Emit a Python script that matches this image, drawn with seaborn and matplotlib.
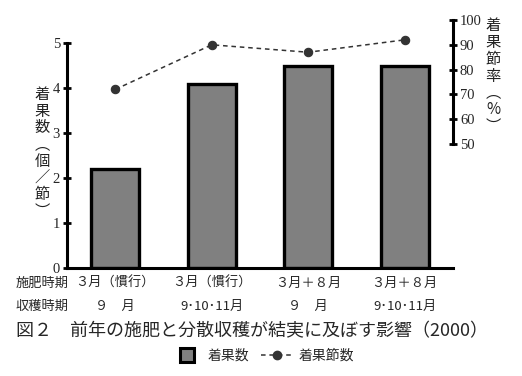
import matplotlib
matplotlib.use("Agg")
import matplotlib.pyplot as plt
import matplotlib.transforms as mtransforms
from matplotlib.lines import Line2D
import seaborn as sns
import pandas as pd

# ---- data ----
categories = ["A", "B", "C", "D"]
fruit_count = [2.2, 4.1, 4.5, 4.5]          # 着果数（個／節）
fruit_node_rate = [72, 90, 87, 92]          # 着果節率（%）
fert_labels = ["３月（慣行）", "３月（慣行）", "３月＋８月", "３月＋８月"]
harvest_labels = ["９　月", "9･10･11月", "９　月", "9･10･11月"]
left_ticks = [0, 1, 2, 3, 4, 5]
right_ticks = [50, 60, 70, 80, 90, 100]

sns.set_style("white")
plt.rcParams['font.family'] = ['Noto Sans CJK JP', 'DejaVu Sans']
JP = ['Noto Sans CJK JP', 'DejaVu Sans']
NUM = ['Liberation Serif', 'DejaVu Serif']

BAR_GREY = "#808080"
LINE_COL = "#333333"

df = pd.DataFrame({"cat": categories, "count": fruit_count, "rate": fruit_node_rate})

fig = plt.figure(figsize=(5.22, 3.76), dpi=100)
ax = fig.add_axes([67/522, 1 - 268/376, (453-67)/522, (268-19)/376])

sns.barplot(data=df, x="cat", y="count", ax=ax, color=BAR_GREY,
            width=0.5, edgecolor="black", linewidth=2.4, saturation=1)
ax.set_xlim(-0.5, 3.5)
ax.set_ylim(0, 5 * 249 / 225)
ax.set_yticks(left_ticks)
ax.set_yticklabels([str(t) for t in left_ticks], fontfamily=NUM, fontsize=10.5)
ax.set_xticks([-0.5, 0.5, 1.5, 2.5, 3.5])
ax.set_xticklabels([])
ax.tick_params(axis='both', direction='inout', length=6, width=2, color='black', pad=2)
for s in ["top", "right"]:
    ax.spines[s].set_visible(False)
for s in ["left", "bottom"]:
    ax.spines[s].set_linewidth(2.2)
    ax.spines[s].set_color("black")
ax.spines["left"].set_bounds(0, 5)
ax.set_xlabel("")
ax.set_ylabel("")

ax2 = ax.twinx()
sns.pointplot(data=df, x="cat", y="rate", ax=ax2, color=LINE_COL,
              linestyles="--", markers="o", markersize=6, linewidth=1.1)
ax2.set_xlim(-0.5, 3.5)
ax2.set_ylim(0, 100 * 249 / 248)
ax2.set_yticks(right_ticks)
ax2.set_yticklabels([str(t) for t in right_ticks], fontfamily=NUM, fontsize=10.5)
ax2.tick_params(axis='y', direction='inout', length=6, width=2, color='black', pad=2)
for s in ["top", "left", "bottom"]:
    ax2.spines[s].set_visible(False)
ax2.spines["right"].set_linewidth(2.2)
ax2.spines["right"].set_color("black")
ax2.spines["right"].set_bounds(50, 100)
ax2.set_xlabel("")
ax2.set_ylabel("")
for l in ax2.lines:
    l.set_dashes([3, 2.5])

# vertical axis labels
fig.text(42/522, 1 - 153/376, "着\n果\n数\n︵\n個\n／\n節\n︶", ha="center", va="center",
         fontsize=11, linespacing=0.98, family=JP, color="#222222")
fig.text(493/522, 1 - 76/376, "着\n果\n節\n率\n︵\n%\n︶", ha="center", va="center",
         fontsize=11, linespacing=0.98, family=JP, color="#222222")

# category labels under the axis
trans = mtransforms.blended_transform_factory(ax.transData, fig.transFigure)
fig.text(16/522, 1 - 283/376, "施肥時期", ha="left", va="center", fontsize=9.5, family=JP)
fig.text(16/522, 1 - 306/376, "収穫時期", ha="left", va="center", fontsize=9.5, family=JP)
for i, (f, h) in enumerate(zip(fert_labels, harvest_labels)):
    ax.text(i, 1 - 283/376, f, transform=trans, ha="center", va="center", fontsize=9.5, family=JP)
    ax.text(i, 1 - 306/376, h, transform=trans, ha="center", va="center", fontsize=9.5, family=JP)

fig.text(16/522, 1 - 331/376, "図２　前年の施肥と分散収穫が結実に及ぼす影響（2000）",
         ha="left", va="center", fontsize=13, family=JP)

handles = [Line2D([0], [0], linestyle="none", marker="s", markersize=10,
                  markerfacecolor=BAR_GREY, markeredgecolor="black", markeredgewidth=2.2),
           Line2D([0], [0], color=LINE_COL, linestyle=(0, (3, 2.5)), marker="o",
                  markersize=6, linewidth=1.1)]
fig.legend(handles, ["着果数", "着果節数"], loc="center", bbox_to_anchor=(262/522, 1 - 356/376),
           ncol=2, frameon=False, handlelength=2.4, columnspacing=0.8,
           handletextpad=0.3, prop={'family': JP, 'size': 10})

fig.savefig("out.png", dpi=100)
